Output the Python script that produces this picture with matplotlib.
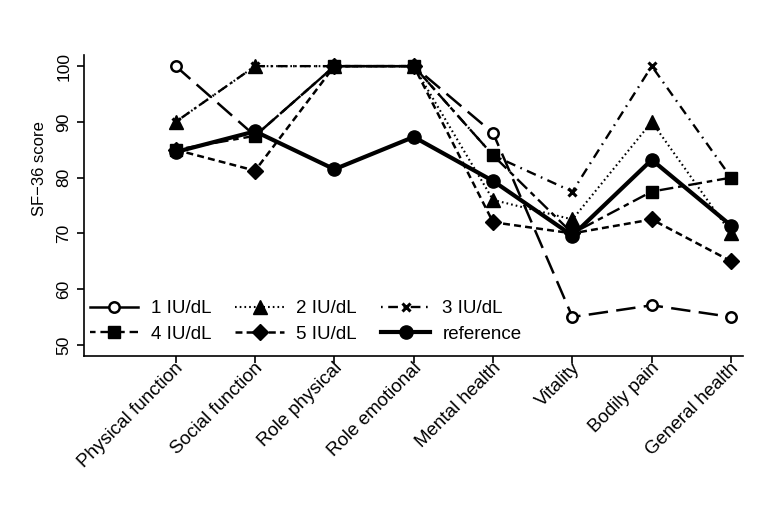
import matplotlib
matplotlib.use("Agg")
import matplotlib.pyplot as plt
from matplotlib.lines import Line2D
from matplotlib.transforms import ScaledTranslation

plt.rcParams['font.family'] = ['Liberation Sans', 'DejaVu Sans']
plt.rcParams['lines.scale_dashes'] = False

categories = ["Physical function", "Social function", "Role physical", "Role emotional",
              "Mental health", "Vitality", "Bodily pain", "General health"]
iu1 = [100, 87.5, 100, 100, 88, 55, 57.1, 55]
iu2 = [90, 100, 100, 100, 76, 72.5, 90, 70]
iu3 = [90, 100, 100, 100, 84, 77.5, 100, 80]
iu4 = [85, 87.5, 100, 100, 84, 70, 77.5, 80]
iu5 = [85, 81.25, 100, 100, 72, 70, 72.5, 65]
reference = [84.6, 88.3, 81.5, 87.3, 79.4, 69.6, 83.2, 71.4]
labels = ["1 IU/dL", "2 IU/dL", "3 IU/dL", "4 IU/dL", "5 IU/dL", "reference"]
yticks = [50, 60, 70, 80, 90, 100]

fig = plt.figure(figsize=(7.72, 5.26), dpi=100)
ax = fig.add_axes([84/772, 1-356/526, (743-84)/772, (356-55)/526])

x = list(range(1, len(categories) + 1))
k = dict(color='black', clip_on=False)
l1, = ax.plot(x, iu1, linestyle=(0, (14, 6)), lw=1.8, marker='o', ms=7.5,
              mfc='white', mec='black', mew=1.8, **k)
l2, = ax.plot(x, iu2, linestyle=(0, (1.2, 2.2)), lw=1.5, marker='^', ms=9.5, **k)
l3, = ax.plot(x, iu3, linestyle=(0, (1.2, 4, 7, 4)), lw=1.7, marker='x', ms=6, mew=2.2, **k)
l4, = ax.plot(x, iu4, linestyle=(0, (4, 3.5, 10, 3.5)), lw=1.7, marker='s', ms=8, **k)
l5, = ax.plot(x, iu5, linestyle=(0, (5, 3)), lw=1.8, marker='D', ms=8, **k)
lr, = ax.plot(x, reference, linestyle='-', lw=3.0, marker='o', ms=9.5, **k)

# legend handles (1 IU/dL drawn solid in legend as in the original)
h1 = Line2D([], [], color='black', lw=1.8, marker='o', ms=7.5, mfc='white', mec='black', mew=1.8)
handles = [h1, l2, l3, l4, l5, lr]
order = [0, 3, 1, 4, 2, 5]
ax.legend([handles[i] for i in order], [labels[i] for i in order], ncol=3,
          loc='lower left', bbox_to_anchor=(0.0, 0.025), frameon=False,
          fontsize=13.5, handlelength=2.6, handletextpad=0.65, columnspacing=1.3,
          labelspacing=0.45, borderpad=0.3, borderaxespad=0.0)

ax.set_xlim(-0.156, 8.15)
ax.set_ylim(48, 102)
ax.tick_params(axis='both', length=5, width=1.2, color='black')
ax.tick_params(axis='y', pad=4)
ax.tick_params(axis='x', pad=6)
ax.set_yticks(yticks)
ax.set_yticklabels([str(v) for v in yticks], rotation=90, va='center', fontsize=12.5)
ax.set_xticks(x)
ax.set_xticklabels(categories, rotation=45, ha='right', va='center',
                   rotation_mode='anchor', fontsize=13.5)
off = ScaledTranslation(5/100, 6/100, fig.dpi_scale_trans)
for lab in ax.get_xticklabels():
    lab.set_transform(lab.get_transform() + off)
for s in ['top', 'right']:
    ax.spines[s].set_visible(False)
for s in ['left', 'bottom']:
    ax.spines[s].set_linewidth(1.2)

fig.text(40/772, 1-169/526, "SF\u221236 score", rotation=90, ha='center', va='center', fontsize=12)

fig.savefig("out.png", dpi=100)
